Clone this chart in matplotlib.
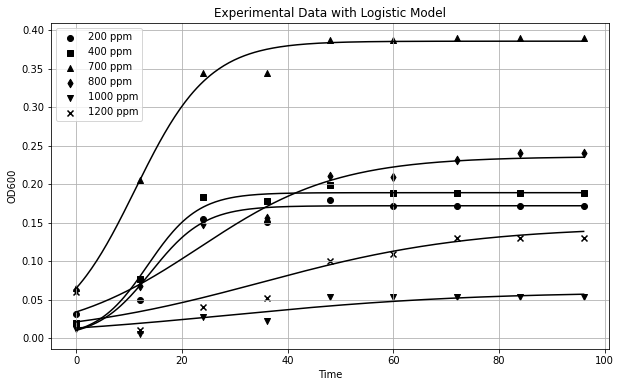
import numpy as np
import matplotlib
matplotlib.use("Agg")
from matplotlib import pyplot as plt

# measured OD600 values
time = [0, 12, 24, 36, 48, 60, 72, 84, 96]
labels = ["200 ppm", "400 ppm", "700 ppm", "800 ppm", "1000 ppm", "1200 ppm"]
markers = ["o", "s", "^", "d", "v", "x"]

od_200 = [0.031, 0.049, 0.155, 0.151, 0.179, 0.172, 0.172, 0.172, 0.172]
od_400 = [0.019, 0.077, 0.183, 0.178, 0.199, 0.188, 0.188, 0.188, 0.188]
od_700 = [0.065, 0.205, 0.344, 0.344, 0.388, 0.388, 0.390, 0.390, 0.390]
od_800 = [0.062, 0.068, 0.148, 0.156, 0.211, 0.210, 0.231, 0.240, 0.240]
od_1000 = [0.012, 0.005, 0.028, 0.022, 0.054, 0.054, 0.054, 0.054, 0.054]
od_1200 = [0.060, 0.010, 0.041, 0.052, 0.100, 0.109, 0.130, 0.130, 0.130]
data = [od_200, od_400, od_700, od_800, od_1000, od_1200]

# fitted logistic parameters (K, r, N0)
K = [0.172, 0.189, 0.386, 0.236, 0.060, 0.145]
r = [0.197, 0.21, 0.1435, 0.0763, 0.044, 0.0506]
N0 = [0.010, 0.0105, 0.065, 0.034, 0.013, 0.021]


def logistic(t, k, rate, n0):
    return k / (1 + (k - n0) / n0 * np.exp(-rate * t))


fig = plt.figure(figsize=(8.625, 5.375), dpi=72)
fig.subplots_adjust(left=0.0821, right=0.9807, top=0.9398, bottom=0.0982)
ax = fig.gca()

t_fit = np.linspace(0, 96, 300)
for i in range(len(labels)):
    ax.scatter(time, data[i], marker=markers[i], color="black", label=labels[i])
    ax.plot(t_fit, logistic(t_fit, K[i], r[i], N0[i]), color="black")

ax.set_title("Experimental Data with Logistic Model")
ax.set_xlabel("Time")
ax.set_ylabel("OD600")
ax.legend(loc="upper left")
ax.grid(True)

fig.savefig("out.png", dpi=72)
